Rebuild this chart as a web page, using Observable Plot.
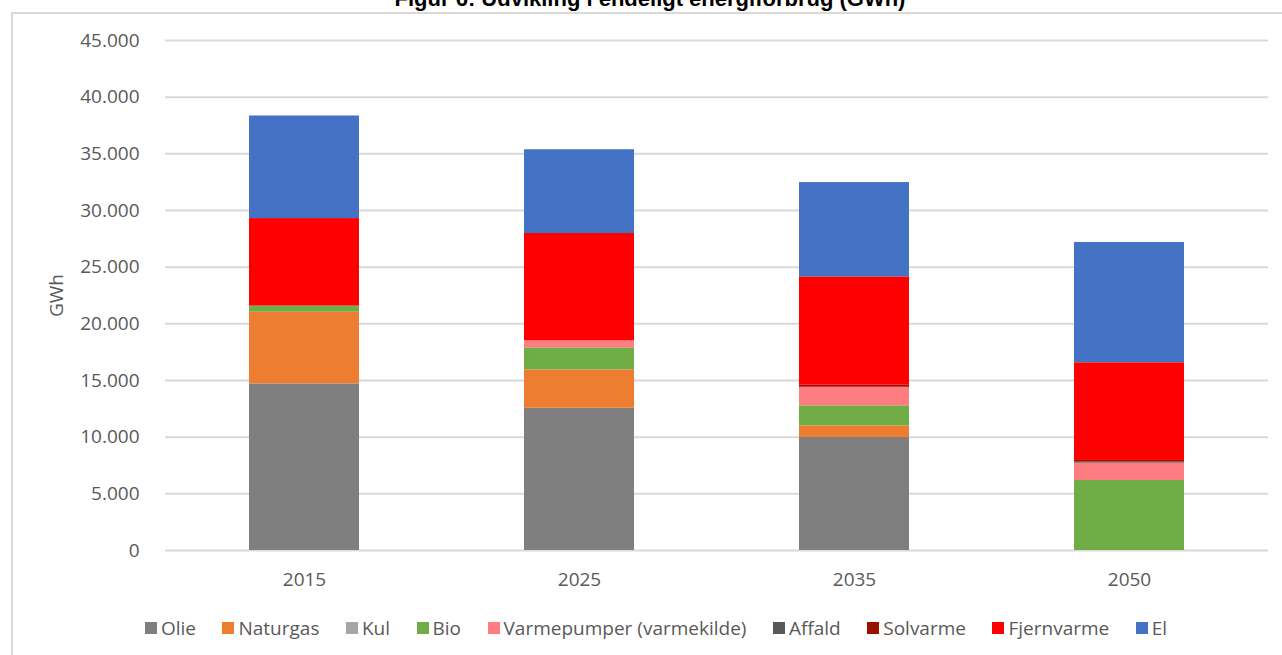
<!DOCTYPE html>
<html lang="da">
<head>
<meta charset="utf-8">
<script src="https://cdn.jsdelivr.net/npm/d3@7"></script>
<script src="https://cdn.jsdelivr.net/npm/@observablehq/plot@0.6"></script>
<style>
  html, body { margin: 0; padding: 0; background: #fff; }
  body { width: 1282px; height: 655px; overflow: hidden; position: relative; }
  #title {
    position: absolute; left: 0; width: 1300px; top: -12px;
    text-align: center; font: bold 22px "Liberation Sans", Arial, sans-serif;
    line-height: 22px; color: #000; white-space: nowrap;
  }
  #frame {
    position: absolute; left: 11px; top: 12px; width: 1300px; height: 700px;
    border: 2px solid #d9d9d9; box-sizing: border-box;
  }
  #chart { position: absolute; left: 0; top: 0; }
  #legend {
    position: absolute; left: 0; width: 1312px; top: 615px;
    display: flex; justify-content: center; gap: 26.5px;
    font: 19px "Open Sans", sans-serif; color: #595959; line-height: 26px;
  }
  #legend .item { display: flex; align-items: center; gap: 4px; white-space: nowrap; }
  #legend .sw { width: 12px; height: 12px; display: inline-block; }
</style>
</head>
<body>
<div id="title">Figur 6: Udvikling i endeligt energiforbrug (GWh)</div>
<div id="frame"></div>
<div id="chart"></div>
<div id="legend"></div>
<script>
// Years on the x axis
const years = ["2015", "2025", "2035", "2050"];

// Energy sources, bottom to top in each stack, and their colours
const sources = ["Olie", "Naturgas", "Kul", "Bio", "Varmepumper (varmekilde)", "Affald", "Solvarme", "Fjernvarme", "El"];
const sourceColors = ["#7f7f7f", "#ed7d31", "#a5a5a5", "#70ad47", "#ff7c80", "#595959", "#991100", "#ff0000", "#4472c4"];

// Final energy consumption per source (GWh)
const olie        = [14700, 12550,  9970,     0];
const naturgas    = [ 6320,  3390,  1030,     0];
const kul         = [    0,     0,     0,     0];
const bio         = [  530,  1940,  1765,  6180];
const varmepumper = [    0,   620,  1640,  1525];
const affald      = [    0,     0,     0,    90];
const solvarme    = [   30,     0,   175,   150];
const fjernvarme  = [ 7710,  9470,  9565,  8620];
const el          = [ 9050,  7390,  8320, 10615];

// y axis ticks
const yTicks = [0, 5000, 10000, 15000, 20000, 25000, 30000, 35000, 40000, 45000];

const seriesValues = [olie, naturgas, kul, bio, varmepumper, affald, solvarme, fjernvarme, el];
const rows = sources.flatMap((kilde, i) =>
  years.map((year, j) => ({ year, kilde, gwh: seriesValues[i][j] }))
);

// Danish number format: 45.000
const fmt = d => d3.format(",")(d).replace(/,/g, ".");

const chart = Plot.plot({
  width: 1282,
  height: 600,
  marginTop: 40,
  marginBottom: 50,
  marginLeft: 165,
  marginRight: 14,
  style: { fontFamily: "'Open Sans', sans-serif", fontSize: "19px", color: "#595959", background: "transparent" },
  x: { domain: years, paddingInner: 0.6, paddingOuter: 0.3, label: null },
  y: { domain: [0, 45000], label: null },
  color: { domain: sources, range: sourceColors },
  marks: [
    Plot.gridY(yTicks, { stroke: "#d9d9d9", strokeOpacity: 1, strokeWidth: 2 }),
    Plot.barY(rows, { x: "year", y: "gwh", fill: "kilde", order: sources }),
    Plot.axisX({ tickSize: 0, tickPadding: 22, label: null, fill: "#595959" }),
    Plot.axisY(yTicks, {
      tickSize: 0, tickPadding: 26, tickFormat: fmt, fill: "#595959",
      label: "GWh", labelAnchor: "center", labelArrow: "none", labelOffset: 116
    })
  ]
});
document.getElementById("chart").appendChild(chart);

// Legend row below the chart
const legend = document.getElementById("legend");
sources.forEach((s, i) => {
  const item = document.createElement("span");
  item.className = "item";
  const sw = document.createElement("span");
  sw.className = "sw";
  sw.style.background = sourceColors[i];
  const label = document.createElement("span");
  label.textContent = s;
  item.append(sw, label);
  legend.appendChild(item);
});
</script>
</body>
</html>
